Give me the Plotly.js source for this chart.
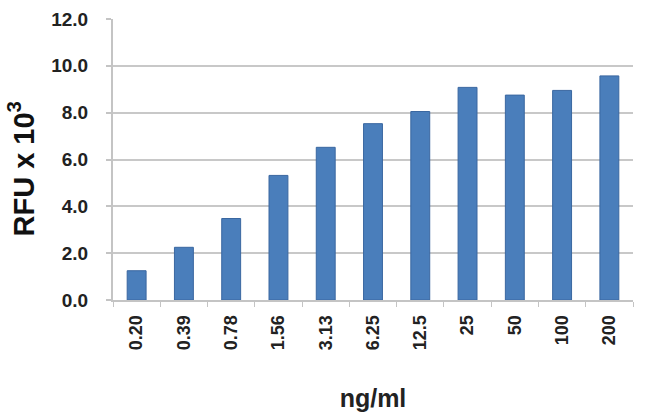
<!DOCTYPE html>
<html>
<head>
<script src="https://cdn.plot.ly/plotly-3.0.1.min.js"></script>
<style>html,body{margin:0;padding:0;background:#fff;}#chart{width:650px;height:415px;}</style>
</head>
<body>
<div id="chart"></div>
<script>
const categories = ["0.20","0.39","0.78","1.56","3.13","6.25","12.5","25","50","100","200"];
const rfu = [1.25, 2.25, 3.48, 5.32, 6.52, 7.53, 8.05, 9.08, 8.75, 8.95, 9.57];
const yTicks = [0, 2, 4, 6, 8, 10, 12];

Plotly.newPlot('chart', [{
  type: 'bar',
  x: categories,
  y: rfu,
  marker: {color: '#4a7ebb', line: {color: '#3a67a0', width: 1}},
  hoverinfo: 'none'
}], {
  width: 650, height: 415,
  margin: {l: 113, r: 17, t: 19, b: 115},
  paper_bgcolor: '#fff', plot_bgcolor: '#fff',
  bargap: 0.6,
  showlegend: false,
  font: {family: 'Liberation Sans, Arial, sans-serif', color: '#222'},
  xaxis: {
    type: 'category',
    tickangle: -90,
    tickfont: {size: 18, weight: 'bold', color: '#222'},
    showline: true, linecolor: '#c4c4c4', linewidth: 2,
    ticks: 'outside', tickson: 'boundaries', ticklen: 5, tickcolor: '#c4c4c4', tickwidth: 1,
    ticklabelstandoff: 6,
    showgrid: false,
    title: {text: 'ng/ml', font: {size: 25, weight: 'bold', color: '#222'}, standoff: 40}
  },
  yaxis: {
    range: [0, 12],
    tickvals: yTicks,
    tickformat: '.1f',
    tickfont: {size: 19, weight: 'bold', color: '#222'},
    showline: true, linecolor: '#c4c4c4', linewidth: 2,
    ticks: 'outside', ticklen: 5, tickcolor: '#c4c4c4', tickwidth: 2,
    ticklabelstandoff: 14,
    showgrid: true, gridcolor: '#c8c8c8', gridwidth: 2,
    zeroline: false
  },
  annotations: [{
    text: 'RFU x 10<sup>3</sup>',
    xref: 'paper', yref: 'paper', x: 0, y: 0.5,
    xanchor: 'center', yanchor: 'middle',
    xshift: -92, yshift: -10,
    textangle: -90, showarrow: false,
    font: {size: 29, weight: 'bold', color: '#111'}
  }]
}, {staticPlot: true, displayModeBar: false});
</script>
</body>
</html>
